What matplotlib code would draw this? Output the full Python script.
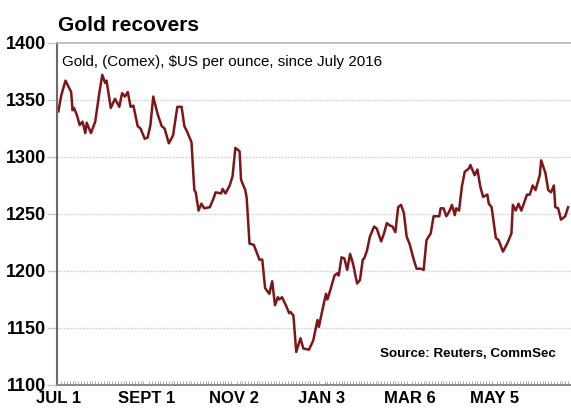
import matplotlib.pyplot as plt
import numpy as np
import pandas as pd

plt.rcParams['font.family'] = ['Liberation Sans', 'DejaVu Sans']

# Comex gold, $US per ounce, days since 1 July 2016
start = pd.Timestamp("2016-07-01")
days = [0, 2, 5, 7, 9, 10, 11, 13, 15, 17, 19, 20, 23, 26, 29, 31, 33, 34, 37, 40,
        43, 45, 47, 49, 51, 53, 56, 58, 61, 63, 65, 67, 70, 73, 75, 78, 81, 84, 87, 89,
        91, 94, 96, 97, 99, 101, 103, 107, 110, 111, 115, 116, 118, 121, 123, 125, 128, 129, 132, 133,
        135, 138, 142, 144, 146, 149, 151, 153, 155, 156, 158, 161, 163, 164, 166, 168, 171, 173, 177, 180,
        183, 184, 186, 189, 190, 192, 195, 197, 198, 200, 202, 204, 206, 208, 211, 213, 215, 216, 218, 220,
        223, 225, 226, 228, 230, 232, 234, 236, 238, 240, 242, 244, 246, 248, 251, 253, 256, 258, 260, 263,
        265, 267, 269, 270, 272, 274, 276, 278, 280, 281, 283, 285, 287, 290, 291, 294, 296, 298, 300, 303,
        304, 306, 309, 311, 314, 317, 320, 321, 323, 325, 327, 331, 333, 335, 337, 340, 341, 344, 346, 348,
        350, 351, 353, 355, 358, 360]
price = [1340, 1354, 1367, 1362, 1357, 1341, 1343, 1337, 1328, 1331, 1321, 1330, 1321, 1331, 1357, 1372, 1365, 1367, 1343, 1351,
         1344, 1356, 1353, 1357, 1344, 1345, 1327, 1325, 1316, 1317, 1328, 1353, 1338, 1327, 1325, 1312, 1319, 1344, 1344, 1327,
         1322, 1313, 1271, 1269, 1253, 1259, 1255, 1256, 1265, 1269, 1268, 1272, 1268, 1275, 1283, 1308, 1305, 1280, 1271, 1264,
         1224, 1223, 1210, 1210, 1185, 1180, 1191, 1170, 1177, 1175, 1177, 1169, 1163, 1164, 1161, 1129, 1141, 1132, 1131, 1139,
         1157, 1151, 1163, 1180, 1175, 1183, 1196, 1198, 1196, 1212, 1211, 1201, 1215, 1207, 1189, 1192, 1210, 1211, 1218, 1230,
         1239, 1237, 1233, 1226, 1233, 1242, 1240, 1239, 1234, 1256, 1258, 1251, 1230, 1224, 1210, 1202, 1202, 1201, 1227, 1233,
         1248, 1248, 1248, 1255, 1255, 1248, 1252, 1258, 1249, 1255, 1253, 1274, 1287, 1290, 1293, 1284, 1289, 1274, 1265, 1267,
         1259, 1256, 1229, 1227, 1217, 1224, 1233, 1258, 1253, 1259, 1253, 1267, 1267, 1275, 1271, 1284, 1297, 1286, 1271, 1269,
         1275, 1256, 1255, 1245, 1248, 1256]

tick_dates = ["2016-07-01", "2016-09-01", "2016-11-02", "2017-01-03", "2017-03-06", "2017-05-05"]
tick_labels = ["JUL 1", "SEPT 1", "NOV 2", "JAN 3", "MAR 6", "MAY 5"]
yticks = [1100, 1150, 1200, 1250, 1300, 1350, 1400]

tick_pos = [(pd.Timestamp(d) - start).days for d in tick_dates]

fig = plt.figure(figsize=(5.71, 4.09), dpi=100)
ax = fig.add_axes([0.0998, 0.0587, 0.9, 0.8362])

ax.plot(days, price, color='#7d1618', lw=1.8, solid_joinstyle='round')

ax.set_xlim(-1, 362)
ax.set_ylim(1100, 1400)

# grid
for y in yticks[1:-1]:
    ax.axhline(y, color='#d6d6d6', lw=1.0, ls=(0, (1.5, 0.8)), zorder=0)

ax.set_yticks(yticks)
ax.set_yticklabels([str(v) for v in yticks], fontsize=13, fontweight='bold')
ax.set_xticks(tick_pos)
ax.set_xticklabels(tick_labels, fontsize=12, fontweight='bold')
ax.set_xticks(np.arange(0, 362, 2), minor=True)

ax.tick_params(axis='y', length=7, width=1, color='#c8c8c8', pad=1)
ax.tick_params(axis='x', which='major', length=0, pad=4)
ax.tick_params(axis='x', which='minor', length=3, width=0.6, color='#9a9a9a', direction='in')

ax.spines['left'].set_color('#6a6a6a')
ax.spines['left'].set_linewidth(1.5)
ax.spines['bottom'].set_color('#8a8a8a')
ax.spines['bottom'].set_linewidth(1.4)
ax.spines['top'].set_color('#b5b5b5')
ax.spines['top'].set_linewidth(1.2)
ax.spines['right'].set_visible(False)

fig.text(0.1015, 0.925, "Gold recovers", fontsize=15, fontweight='bold', ha='left', va='baseline')
ax.text(0.01, 0.965, "Gold, (Comex), $US per ounce, since July 2016", transform=ax.transAxes,
        fontsize=10.9, ha='left', va='top')
ax.text(0.97, 0.09, "Source: Reuters, CommSec", transform=ax.transAxes,
        fontsize=9.6, fontweight='bold', ha='right', va='center')

fig.savefig("out.png", dpi=100)
